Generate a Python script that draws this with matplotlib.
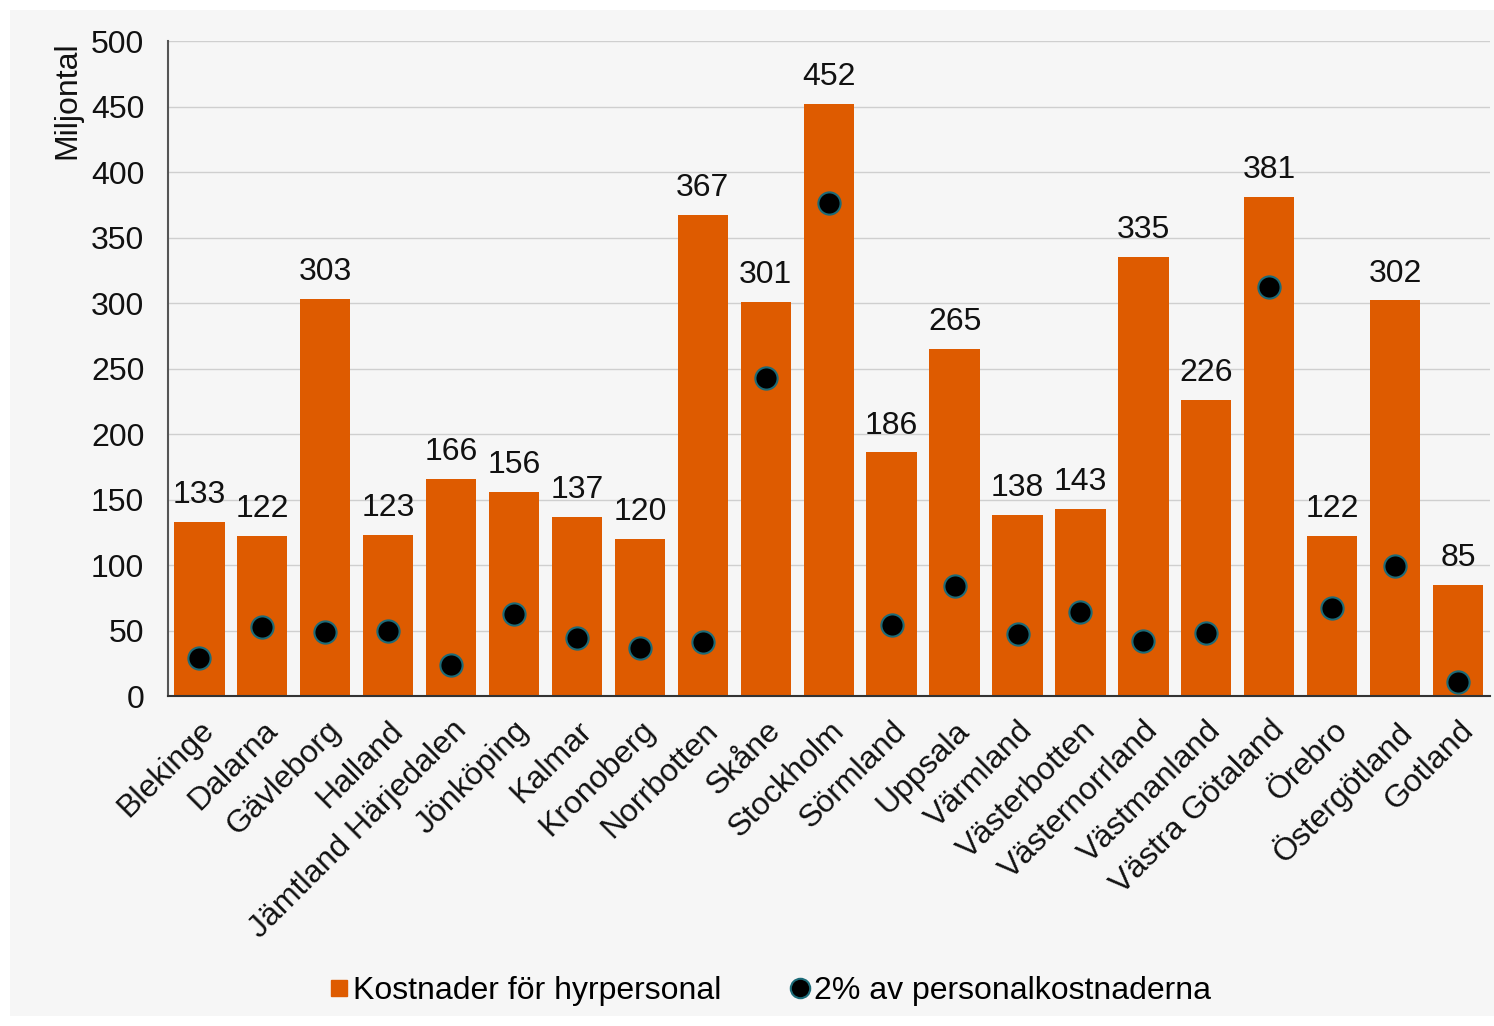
import matplotlib.pyplot as plt
from matplotlib.lines import Line2D

plt.rcParams['font.family'] = ['Liberation Sans', 'DejaVu Sans']

# data
lan = ['Blekinge', 'Dalarna', 'Gävleborg', 'Halland', 'Jämtland Härjedalen',
       'Jönköping', 'Kalmar', 'Kronoberg', 'Norrbotten', 'Skåne', 'Stockholm',
       'Sörmland', 'Uppsala', 'Värmland', 'Västerbotten', 'Västernorrland',
       'Västmanland', 'Västra Götaland', 'Örebro', 'Östergötland', 'Gotland']
hyrpersonal = [133, 122, 303, 123, 166, 156, 137, 120, 367, 301, 452,
               186, 265, 138, 143, 335, 226, 381, 122, 302, 85]
tva_procent = [29, 53, 49, 50, 24, 63, 44, 37, 41, 243, 376,
               54, 84, 47, 64, 42, 48, 312, 67, 99, 11]
y_ticks = [0, 50, 100, 150, 200, 250, 300, 350, 400, 450, 500]

bg = '#F6F6F6'
orange = '#DE5B00'
fs = 23

fig = plt.figure(figsize=(14.94, 10.26), dpi=100)
fig.patch.set_facecolor('white')
# gray panel inside a thin white border
fig.patches.append(plt.Rectangle((0.007, 0.01), 0.993, 0.98, transform=fig.transFigure,
                                 facecolor=bg, edgecolor='none', zorder=-10))

ax = fig.add_axes([0.1124, 0.3216, 0.8846, 0.6384])
ax.set_facecolor(bg)

x = list(range(len(lan)))
ax.bar(x, hyrpersonal, width=0.8, color=orange, zorder=2)
ax.plot(x, tva_procent, linestyle='none', marker='o', markersize=16,
        markerfacecolor='black', markeredgecolor='#1C6B78', markeredgewidth=1.5,
        zorder=3)

for xi, v in zip(x, hyrpersonal):
    ax.text(xi, v + 9, str(v), ha='center', va='bottom', fontsize=fs, color='#111111')

ax.set_xlim(-0.5, 20.5)
ax.set_ylim(0, 500)
ax.set_yticks(y_ticks)
ax.tick_params(axis='y', labelsize=fs, length=0, pad=17, colors='#111111')
ax.tick_params(axis='x', length=0, pad=14)
ax.set_xticks(x)
ax.set_xticklabels(lan, rotation=45, ha='right', rotation_mode='anchor',
                   fontsize=fs, color='#111111')
ax.grid(axis='y', color='#CFCFCF', linewidth=1, zorder=0)
ax.set_axisbelow(True)

for s in ['top', 'right']:
    ax.spines[s].set_visible(False)
ax.spines['left'].set_color('#555555')
ax.spines['bottom'].set_color('#333333')
ax.spines['left'].set_linewidth(1.5)
ax.spines['bottom'].set_linewidth(1.5)

ax.set_ylabel('Miljontal', fontsize=fs, loc='top', labelpad=6, color='#111111')

handles = [
    Line2D([], [], linestyle='none', marker='s', markersize=11,
           markerfacecolor=orange, markeredgecolor=orange),
    Line2D([], [], linestyle='none', marker='o', markersize=14,
           markerfacecolor='black', markeredgecolor='#1C6B78', markeredgewidth=1.5),
]
labels = ['Kostnader för hyrpersonal', '2% av personalkostnaderna']
fig.legend(handles, labels, loc='center', bbox_to_anchor=(0.516, 0.034), ncol=2,
           frameon=False, fontsize=fs, handlelength=0.5, handletextpad=0.2,
           columnspacing=2.2)

fig.savefig('out.png', dpi=100, facecolor=fig.get_facecolor())
